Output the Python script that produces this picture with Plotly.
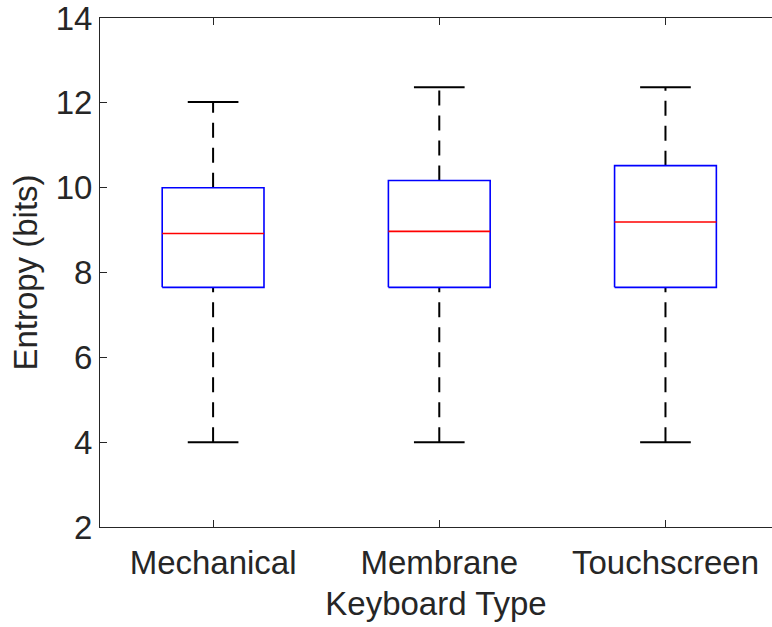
import plotly.graph_objects as go

# Box-plot summary statistics per keyboard type
categories = ["Mechanical", "Membrane", "Touchscreen"]
lower_whisker = [4.0, 4.0, 4.0]
q1 = [7.65, 7.65, 7.65]
median = [8.92, 8.97, 9.19]
q3 = [10.0, 10.17, 10.52]
upper_whisker = [12.02, 12.37, 12.37]
y_ticks = [2, 4, 6, 8, 10, 12, 14]

BOX_HALF = 0.225
CAP_HALF = 0.112
AXIS_COLOR = "#262626"
FONT = "Liberation Sans, Arial, Helvetica, sans-serif"

fig = go.Figure()

for i, name in enumerate(categories):
    x = i + 1
    # dashed whiskers
    for lo, hi in ((lower_whisker[i], q1[i]), (q3[i], upper_whisker[i])):
        fig.add_trace(go.Scatter(
            x=[x, x], y=[lo, hi], mode="lines",
            line=dict(color="black", width=2, dash="15px,10px"),
            hoverinfo="skip", showlegend=False))
    # whisker caps
    for v in (lower_whisker[i], upper_whisker[i]):
        fig.add_trace(go.Scatter(
            x=[x - CAP_HALF, x + CAP_HALF], y=[v, v], mode="lines",
            line=dict(color="black", width=2),
            hoverinfo="skip", showlegend=False))
    # box
    fig.add_trace(go.Scatter(
        x=[x - BOX_HALF, x + BOX_HALF, x + BOX_HALF, x - BOX_HALF, x - BOX_HALF],
        y=[q1[i], q1[i], q3[i], q3[i], q1[i]], mode="lines",
        line=dict(color="#0000ff", width=1.6),
        name=name, showlegend=False))
    # median
    fig.add_trace(go.Scatter(
        x=[x - BOX_HALF, x + BOX_HALF], y=[median[i], median[i]], mode="lines",
        line=dict(color="#ff0000", width=1.6),
        hoverinfo="skip", showlegend=False))

fig.update_layout(
    width=772, height=627,
    margin=dict(l=100, r=0, t=16, b=100),
    plot_bgcolor="white", paper_bgcolor="white",
    font=dict(family=FONT, size=33, color=AXIS_COLOR),
    xaxis=dict(
        range=[0.5, 3.471],
        tickmode="array", tickvals=[1, 2, 3], ticktext=categories,
        ticks="inside", ticklen=7, tickcolor=AXIS_COLOR, tickwidth=1,
        showline=True, linecolor=AXIS_COLOR, linewidth=1, mirror="ticks",
        showgrid=False, zeroline=False,
        tickfont=dict(size=33), ticklabelstandoff=6,
        title=dict(text="Keyboard Type", font=dict(size=33), standoff=12),
    ),
    yaxis=dict(
        range=[2, 14.0005],
        tickmode="array", tickvals=y_ticks,
        ticks="inside", ticklen=7, tickcolor=AXIS_COLOR, tickwidth=1,
        showline=True, linecolor=AXIS_COLOR, linewidth=1,
        showgrid=False, zeroline=False,
        tickfont=dict(size=33), ticklabeloverflow="allow",
        title=dict(text="Entropy (bits)", font=dict(size=33), standoff=8),
    ),
)

fig.write_html("out.html")
